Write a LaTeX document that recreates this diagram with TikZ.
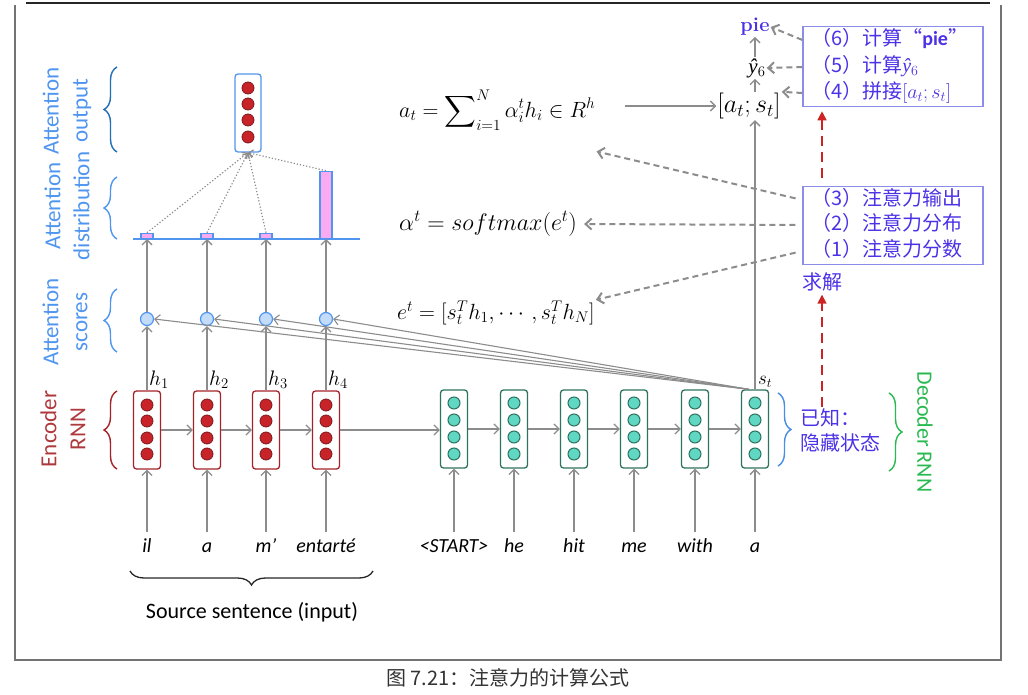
\RequirePackage{fix-cm}
\documentclass[tikz,border=0pt]{standalone}
\usepackage{amsmath,amssymb}
\usepackage{fontspec}
\setsansfont{Carlito}
\newfontfamily\cjk{Noto Sans CJK SC}
\newfontfamily\yfont{Liberation Serif}
\newcommand{\yhatsix}{{\yfont\itshape ŷ}$_6$}
\usepackage{tikz}
\usetikzlibrary{arrows.meta,decorations.pathreplacing,fit,calc}

\definecolor{encred}{RGB}{165,35,40}
\definecolor{encfill}{RGB}{200,35,40}
\definecolor{decteal}{RGB}{45,115,95}
\definecolor{decfill}{RGB}{95,215,195}
\definecolor{attblue}{RGB}{80,150,240}
\definecolor{attfill}{RGB}{195,220,250}
\definecolor{barpink}{RGB}{250,170,240}
\definecolor{outblue}{RGB}{35,110,185}
\definecolor{arrgray}{RGB}{140,140,140}
\definecolor{notecol}{RGB}{75,50,230}
\definecolor{noteline}{RGB}{140,140,235}
\definecolor{dashred}{RGB}{205,35,35}
\definecolor{decgreen}{RGB}{40,185,80}

\tikzset{
  garrow/.style={draw=arrgray,line width=1.3pt,-{Straight Barb[length=5pt,width=10pt]}},
  dotarrow/.style={draw=arrgray,line width=1.2pt,dotted,-{Straight Barb[length=4pt,width=8pt]}},
  notearrow/.style={draw=arrgray,line width=2pt,dash pattern=on 6pt off 4pt,-{Straight Barb[length=6pt,width=11pt]}},
  redarrow/.style={draw=dashred,line width=1.6pt,dash pattern=on 10pt off 6pt,-{Triangle[length=9pt,width=9pt]}},
  vecbox/.style={rounded corners=3pt,minimum width=27pt,minimum height=78pt,line width=1.3pt,fill=white},
  encbox/.style={vecbox,draw=encred},
  decbox/.style={vecbox,draw=decteal},
  outbox/.style={vecbox,draw=attblue,minimum width=26pt,minimum height=78pt},
  encdot/.style={circle,draw=encred!75!black,fill=encfill,minimum size=12pt,inner sep=0pt,line width=0.8pt},
  decdot/.style={circle,draw=decteal,fill=decfill,minimum size=12pt,inner sep=0pt,line width=1pt},
  scoredot/.style={circle,draw=attblue,fill=attfill,minimum size=13pt,inner sep=0pt,line width=1.2pt},
  bar/.style={draw=attblue,fill=barpink,line width=1.3pt,inner sep=0pt,anchor=south},
  word/.style={font=\fontsize{20}{22}\sffamily\itshape,text height=13pt,text depth=4pt,inner sep=1pt},
  sidelab/.style={font=\fontsize{23}{29}\sffamily,rotate=90,align=center},
  note/.style={font=\fontsize{20}{25}\cjk,text=notecol,inner sep=1pt,anchor=west,text height=15pt,text depth=4pt},
  notebox/.style={draw=noteline,line width=1.2pt,inner xsep=7pt,inner ysep=3pt},
  formula/.style={font=\fontsize{22}{26}\selectfont,anchor=west,inner sep=1pt},
  brace/.style={decorate,decoration={brace,amplitude=13pt},line width=1.4pt}
}

\begin{document}
\begin{tikzpicture}[x=1pt,y=-1pt]
\useasboundingbox (0,0) rectangle (1028,695);

% frame and caption
\draw[line width=2pt,black!85] (26,3) -- (990,3);
\draw[line width=1.8pt,black!55] (15,5) -- (15,660) -- (1001,660) -- (1001,5);
\node[font=\fontsize{20}{22}\cjk,text=black!80] (caption) at (508,678) {图 7.21：注意力的计算公式};

% side labels
\node[sidelab,text=attblue] (lout) at (67,111) {Attention\\output};
\node[sidelab,text=attblue] (ldist) at (67,206) {Attention\\distribution};
\node[sidelab,text=attblue] (lscore) at (65,322) {Attention\\scores};
\node[sidelab,text=encred!90] (lenc) at (63,429) {Encoder\\RNN};
\node[font=\fontsize{22}{24}\sffamily,rotate=-90,text=decgreen] (ldec) at (925,432) {Decoder RNN};

\draw[brace,outblue] (117,152) -- (117,67);
\draw[brace,attblue] (117,239) -- (117,177);
\draw[brace,attblue] (117,352) -- (117,289);
\draw[brace,encred] (117,469) -- (117,391);
\draw[brace,attblue!80!outblue] (778,393) -- (778,466);
\draw[brace,decgreen] (889,393) -- (889,471);
\draw[brace,black!85,line width=1.3pt,decoration={amplitude=14pt}] (373,571) -- (130,571);
\node[font=\fontsize{22}{24}\sffamily] (source) at (252,612) {Source sentence (input)};

% attention distribution baseline
\draw[attblue,line width=1.6pt] (133,239) -- (360,239);

% encoder
\foreach \x/\w/\h [count=\i] in {147/il/5,207/a/5,266/m’/5,326/entarté/67}{
  \node[encbox] (e\i) at (\x,430) {};
  \foreach \y in {405,421,438,454} \node[encdot] at (\x,\y) {};
  \node[word] (w\i) at (\x,548) {\w};
  \node[scoredot] (sc\i) at (\x,319) {};
  \node[bar,minimum width=12pt,minimum height=\h pt] (b\i) at (\x,239) {};
  \draw[garrow,shorten <=6pt] (w\i.north) -- (e\i.south);
  \draw[garrow] (e\i.north) -- (sc\i.south);
  \draw[garrow] (sc\i.north) -- (b\i.south);
  \node[font=\fontsize{21}{22}\selectfont,anchor=south west,inner sep=1pt] (h\i) at ([xshift=1pt,yshift=1pt]e\i.north) {$h_{\i}$};
}

% attention output
\node[outbox] (ao) at (248,113) {};
\foreach \y in {88,104,120,137} \node[encdot] at (248,\y) {};
\foreach \i in {1,...,4} \draw[dotarrow] (b\i.north) -- (ao.south);

% decoder
\foreach \x/\w [count=\i] in {454/{<START>},514/he,574/hit,634/me,695/with,755/a}{
  \node[decbox] (d\i) at (\x,429) {};
  \foreach \y in {403,420,437,454} \node[decdot] at (\x,\y) {};
  \node[word] (v\i) at (\x,548) {\w};
  \draw[garrow,shorten <=6pt] (v\i.north) -- (d\i.south);
}
\foreach \a/\b in {e1/e2,e2/e3,e3/e4,e4/d1,d1/d2,d2/d3,d3/d4,d4/d5,d5/d6}
  \draw[garrow] (\a.east) -- (\b.west |- \a.east);

\node[font=\fontsize{19}{20}\selectfont,anchor=south west,inner sep=1pt] (stlab) at ([xshift=2pt,yshift=1pt]d6.north) {$s_t$};
\coordinate (st) at ([xshift=-6pt]d6.north);
\foreach \i in {1,...,4} \draw[garrow,line width=1.1pt] (st) -- (sc\i.east);

% combination and output
\node[font=\fontsize{26}{28}\selectfont,inner sep=1pt] (cat) at (749,106) {$[a_t;s_t]$};
\node[font=\fontsize{21}{22}\selectfont,inner sep=1pt] (yhat) at (757,68) {\yhatsix};
\node[font=\fontsize{20}{22}\bfseries,text=notecol,inner sep=1pt] (pie) at (755,27) {pie};
\draw[garrow] (d6.north) -- (d6.north |- cat.south);
\draw[garrow] (cat.north -| d6.north) -- (yhat.south -| d6.north);
\draw[garrow] (yhat.north -| d6.north) -- (pie.south -| d6.north);

% formulas
\node[formula] (fa) at (398,110) {$\displaystyle a_t=\sum\nolimits_{i=1}^{N}\alpha_i^t h_i\in R^h$};
\node[formula,font=\fontsize{24}{26}\selectfont] (falpha) at (398,224) {$\alpha^t = softmax(e^t)$};
\node[formula] (fe) at (396,313) {$e^t = [s_t^T h_1, \cdots, s_t^T h_N]$};
\draw[garrow] ([xshift=28pt]fa.east |- cat.west) -- (cat.west);
\coordinate (fatip) at ([xshift=0pt,yshift=-20pt]fa.south east);

% note boxes
\coordinate (nbr1) at (976,64);
\coordinate (nbr2) at (976,226);
\node[note] (l6) at (810,40) {（6）计算“\textsf{\textbf{pie}}”};
\node[note] (l5) at (810,67) {（5）计算\yhatsix};
\node[note] (l4) at (810,93) {（4）拼接$[a_t; s_t]$};
\node[notebox,fit=(l6)(l4)(nbr1)] (nb1) {};
\node[note] (l3) at (810,200) {（3）注意力输出};
\node[note] (l2) at (810,225) {（2）注意力分布};
\node[note] (l1) at (810,251) {（1）注意力分数};
\node[notebox,fit=(l3)(l1)(nbr2)] (nb2) {};
\node[note,anchor=center] (qiu) at (822,284) {求解};
\node[note,align=left,text height=,text depth=] (known) at (799,430) {已知：\\隐藏状态};

\draw[notearrow] (nb1.west |- l6) -- (pie.east);
\draw[notearrow] (nb1.west |- l5) -- (yhat.east);
\draw[notearrow] (nb1.west |- l4) -- (cat.north east);
\draw[notearrow,shorten <=7pt] (nb2.west |- l3) -- (fatip);
\draw[notearrow,shorten <=7pt,shorten >=6pt] (nb2.west |- l2) -- (falpha.east);
\draw[notearrow,shorten <=7pt] (nb2.west |- l1) -- (fe.north east);

\draw[redarrow] (known.north -| qiu) -- (qiu.south);
\draw[redarrow,shorten <=8pt,shorten >=4pt] (nb2.north -| qiu) -- (nb1.south -| qiu);
\end{tikzpicture}
\end{document}
